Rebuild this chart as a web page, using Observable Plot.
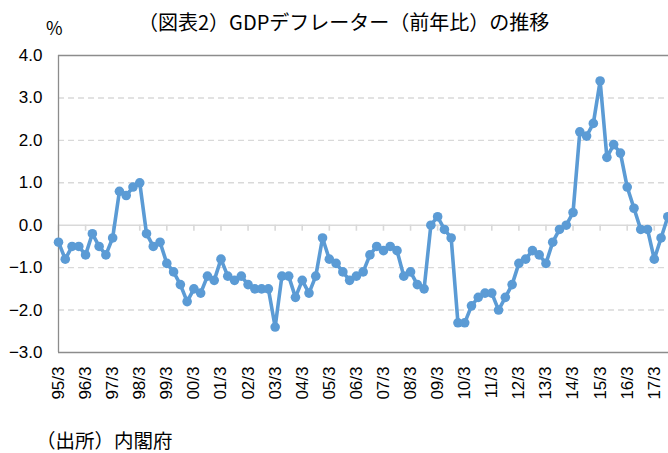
<!DOCTYPE html>
<html>
<head>
<meta charset="utf-8">
<script src="https://cdn.jsdelivr.net/npm/d3@7"></script>
<script src="https://cdn.jsdelivr.net/npm/@observablehq/plot@0.6"></script>
<style>
  html, body { margin: 0; padding: 0; background: #fff; }
  #wrap { position: relative; width: 668px; height: 453px; overflow: hidden; }
  .t { position: absolute; white-space: nowrap; color: #000; }
  #title { left: 138px; top: 7px; font: 20px "Noto Sans CJK JP", sans-serif; }
  #unit { left: 46px; top: 14px; font: 18px "Noto Sans CJK JP", sans-serif; }
  #caption { left: 36px; top: 425px; font: 19.5px "Noto Sans CJK JP", sans-serif; }
  #chart { position: absolute; left: 0; top: 0; }
</style>
</head>
<body>
<div id="wrap">
  <div id="chart"></div>
  <div class="t" id="unit">%</div>
  <div class="t" id="title">（図表2）GDPデフレーター（前年比）の推移</div>
  <div class="t" id="caption">（出所）内閣府</div>
</div>
<script>
// Quarterly GDP deflator, YoY % (index 0 = 95/3, one step per quarter)
const values = [
  -0.4, -0.8, -0.5, -0.5,  -0.7, -0.2, -0.5, -0.7,  -0.3, 0.8, 0.7, 0.9,
   1.0, -0.2, -0.5, -0.4,  -0.9, -1.1, -1.4, -1.8,  -1.5, -1.6, -1.2, -1.3,
  -0.8, -1.2, -1.3, -1.2,  -1.4, -1.5, -1.5, -1.5,  -2.4, -1.2, -1.2, -1.7,
  -1.3, -1.6, -1.2, -0.3,  -0.8, -0.9, -1.1, -1.3,  -1.2, -1.1, -0.7, -0.5,
  -0.6, -0.5, -0.6, -1.2,  -1.1, -1.4, -1.5, 0.0,   0.2, -0.1, -0.3, -2.3,
  -2.3, -1.9, -1.7, -1.6,  -1.6, -2.0, -1.7, -1.4,  -0.9, -0.8, -0.6, -0.7,
  -0.9, -0.4, -0.1, 0.0,   0.3, 2.2, 2.1, 2.4,      3.4, 1.6, 1.9, 1.7,
   0.9, 0.4, -0.1, -0.1,  -0.8, -0.3, 0.2
];
const tickLabels = ["95/3","96/3","97/3","98/3","99/3","00/3","01/3","02/3","03/3","04/3","05/3",
  "06/3","07/3","08/3","09/3","10/3","11/3","12/3","13/3","14/3","15/3","16/3","17/3"];
const yTicks = [-3, -2, -1, 0, 1, 2, 3, 4];
const gridValues = [-2, -1, 1, 2, 3];

const data = values.map((v, i) => ({i, v}));
const tickIdx = tickLabels.map((_, k) => k * 4);

const blue = "#5b9bd5";
const frame = "#8c8c8c";
const grid = "#d9d9d9";

const chart = Plot.plot({
  width: 668,
  height: 453,
  marginLeft: 58,
  marginRight: 0,
  marginTop: 55,
  marginBottom: 101,
  style: { fontFamily: "'Liberation Sans', Arial, sans-serif", color: "#000", background: "transparent" },
  x: { domain: [0, 90.1], label: null },
  y: { domain: [-3, 4], label: null },
  marks: [
    Plot.ruleY(gridValues, { stroke: grid, strokeWidth: 1.4, strokeDasharray: "6,4" }),
    Plot.ruleY([0], { stroke: grid, strokeWidth: 1.6 }),
    Plot.ruleX(tickIdx, { y1: 0, y2: 0, insetBottom: -6, stroke: grid, strokeWidth: 1.6 }),
    Plot.ruleY([-3, 4], { stroke: frame, strokeWidth: 1.3 }),
    Plot.ruleX([0], { stroke: frame, strokeWidth: 1.3 }),
    Plot.axisY({ ticks: yTicks, tickSize: 0, tickPadding: 16, fontSize: 17, label: null,
      tickFormat: d => d.toFixed(1).replace("-", "\u2212") }),
    Plot.axisX({ ticks: tickIdx, tickSize: 0, tickPadding: 14, tickRotate: -90, fontSize: 17, label: null,
      tickFormat: i => tickLabels[i / 4] }),
    Plot.line(data, { x: "i", y: "v", stroke: blue, strokeWidth: 3.6, strokeLinejoin: "round" }),
    Plot.dot(data, { x: "i", y: "v", r: 4.8, fill: blue, stroke: "none" })
  ]
});
document.getElementById("chart").appendChild(chart);
</script>
</body>
</html>
